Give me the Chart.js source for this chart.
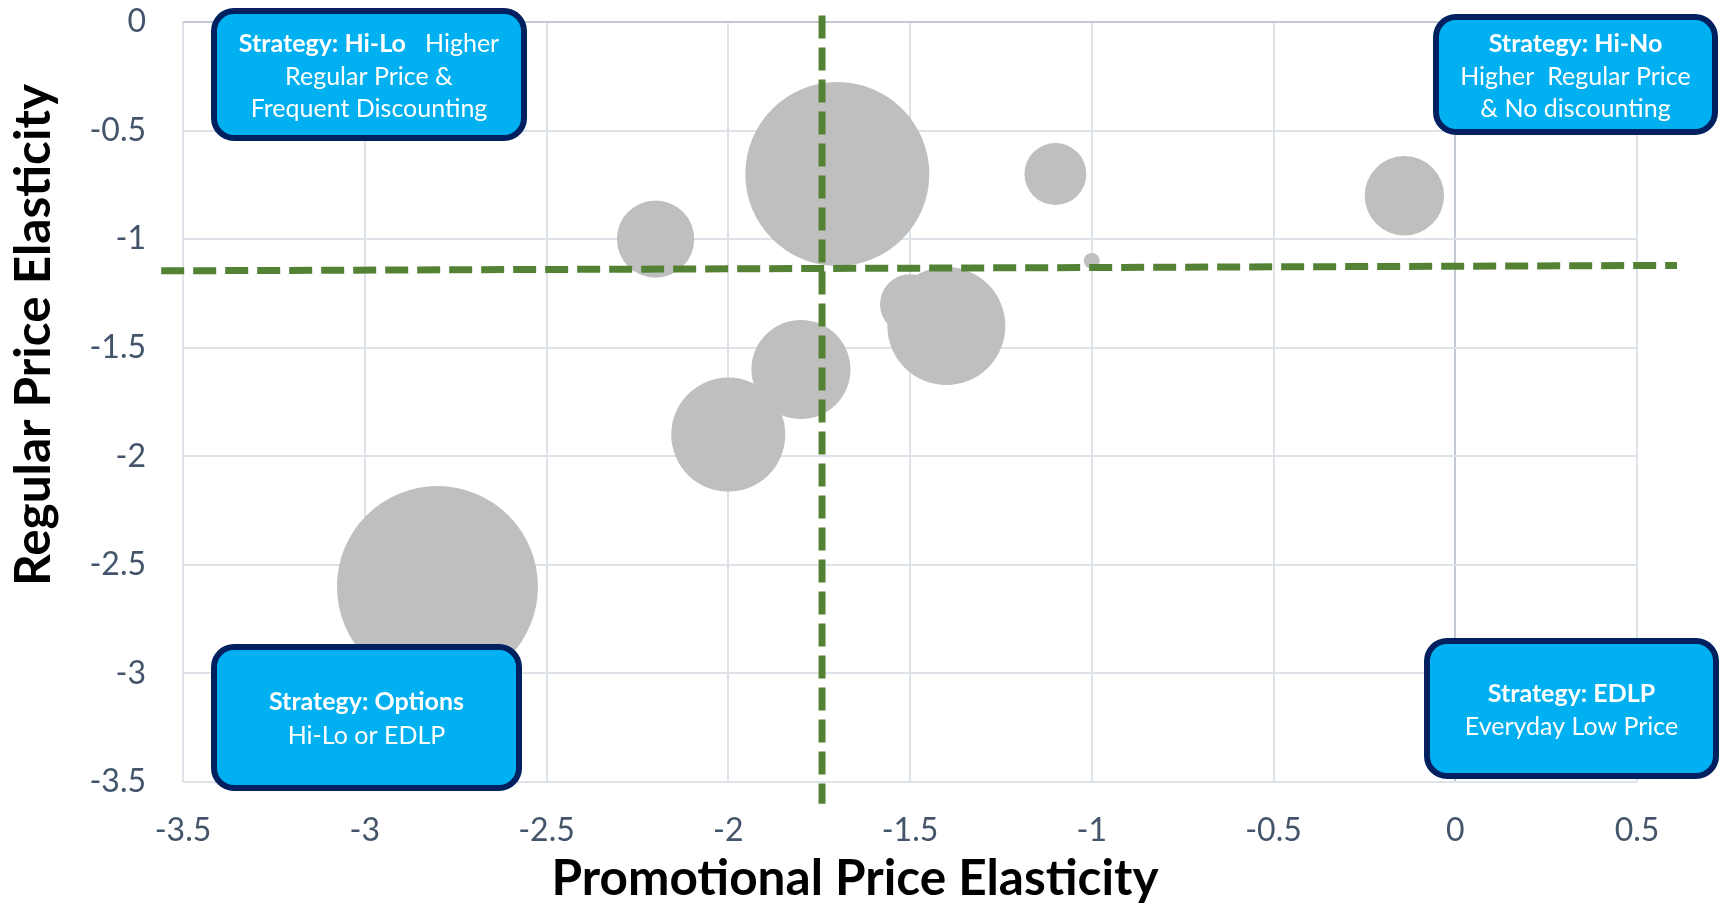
<!DOCTYPE html>
<html>
<head>
<meta charset="utf-8">
<title>Price Elasticity Strategy Map</title>
<script src="https://cdn.jsdelivr.net/npm/chart.js@4.4.1/dist/chart.umd.min.js"></script>
<style>
  html, body { margin: 0; padding: 0; background: #ffffff; }
  canvas { display: block; }
</style>
</head>
<body>
<canvas id="elasticity-chart" width="1723" height="905"></canvas>
<script>
// Product bubbles: promotional elasticity (x), regular elasticity (y), bubble size
const promoElasticity   = [-2.8, -2.2, -1.7, -1.1, -1.0, -0.14, -1.5, -1.4, -1.8, -2.0];
const regularElasticity = [-2.6, -1.0, -0.7, -0.7, -1.1, -0.8, -1.3, -1.4, -1.6, -1.9];
const bubbleSize        = [100, 14.8, 83.8, 9.5, 0.63, 15.6, 8.9, 34.5, 24.3, 32.2];

// Quadrant divider lines
const dividerHX = [-3.56, 0.61];
const dividerHY = [-1.146, -1.121];
const dividerVX = [-1.742, -1.742];
const dividerVY = [0.03, -3.6];

const xTicks = [-3.5, -3, -2.5, -2, -1.5, -1, -0.5, 0, 0.5];
const yTicks = [0, -0.5, -1, -1.5, -2, -2.5, -3, -3.5];

const xTitle = 'Promotional Price Elasticity';
const yTitle = 'Regular Price Elasticity';

// Strategy call-outs, one list of lines per quadrant; each line is [text, bold] runs
const hiLoText    = [[['Strategy: Hi-Lo', true], ['   Higher', false]], [['Regular Price &', false]], [['Frequent Discounting', false]]];
const hiNoText    = [[['Strategy: Hi-No', true]], [['Higher  Regular Price', false]], [['& No discounting', false]]];
const optionsText = [[['Strategy: Options', true]], [['Hi-Lo or EDLP', false]]];
const edlpText    = [[['Strategy: EDLP', true]], [['Everyday Low Price', false]]];

const FONT = 'Lato, "Open Sans", sans-serif';
const MAX_RADIUS = 100.5;
const maxSize = Math.max(...bubbleSize);

const bubbles = promoElasticity.map((x, i) => ({
    x: x,
    y: regularElasticity[i],
    r: MAX_RADIUS * Math.sqrt(bubbleSize[i] / maxSize) // area follows size
}));

const callouts = [
    { x: 211,  y: 8,   w: 316, h: 133, lines: [44, 77, 109], text: hiLoText },
    { x: 1433, y: 14,  w: 285, h: 121, lines: [44, 77, 109], text: hiNoText },
    { x: 211,  y: 644, w: 311, h: 147, lines: [702, 736],    text: optionsText },
    { x: 1424, y: 638, w: 295, h: 141, lines: [694, 727],    text: edlpText }
];

const roundRectPath = (ctx, x, y, w, h, r) => {
    ctx.beginPath();
    ctx.moveTo(x + r, y);
    ctx.arcTo(x + w, y, x + w, y + h, r);
    ctx.arcTo(x + w, y + h, x, y + h, r);
    ctx.arcTo(x, y + h, x, y, r);
    ctx.arcTo(x, y, x + w, y, r);
    ctx.closePath();
};

const runFont = bold => `${bold ? 'bold ' : ''}25px ${FONT}`;

// Draws the axis titles and the four strategy boxes on top of the plot
const overlayPlugin = {
    id: 'overlay',
    afterDraw(chart) {
        const ctx = chart.ctx;
        ctx.save();

        ctx.fillStyle = '#000000';
        ctx.font = `bold 49.5px ${FONT}`;
        ctx.textAlign = 'center';
        ctx.textBaseline = 'middle';
        ctx.fillText(xTitle, 855, 879);

        ctx.save();
        ctx.translate(34, 335);
        ctx.rotate(-Math.PI / 2);
        ctx.fillText(yTitle, 0, 0);
        ctx.restore();

        const bw = 6;
        callouts.forEach(box => {
            roundRectPath(ctx, box.x + bw / 2, box.y + bw / 2, box.w - bw, box.h - bw, 20);
            ctx.fillStyle = '#00B0F0';
            ctx.fill();
            ctx.lineWidth = bw;
            ctx.strokeStyle = '#002060';
            ctx.stroke();

            const cx = box.x + box.w / 2;
            ctx.fillStyle = '#ffffff';
            ctx.textAlign = 'left';
            box.text.forEach((runs, li) => {
                let total = 0;
                runs.forEach(([t, b]) => { ctx.font = runFont(b); total += ctx.measureText(t).width; });
                let x = cx - total / 2;
                runs.forEach(([t, b]) => {
                    ctx.font = runFont(b);
                    ctx.fillText(t, x, box.lines[li]);
                    x += ctx.measureText(t).width;
                });
            });
        });

        ctx.restore();
    }
};

const tickStyle = {
    font: { family: FONT, size: 32 },
    color: '#44546A',
    autoSkip: false,
    maxRotation: 0,
    callback: v => String(v)
};

const gridStyle = {
    color: c => (c.tick && c.tick.value === 0 ? '#C3C9D3' : '#DEE3EA'),
    lineWidth: 2,
    drawTicks: false
};

new Chart(document.getElementById('elasticity-chart'), {
    type: 'bubble',
    data: {
        datasets: [
            {
                type: 'line',
                data: dividerHX.map((x, i) => ({ x: x, y: dividerHY[i] })),
                borderColor: '#548235',
                borderWidth: 7,
                borderDash: [23, 9],
                pointRadius: 0,
                clip: false
            },
            {
                type: 'line',
                data: dividerVX.map((x, i) => ({ x: x, y: dividerVY[i] })),
                borderColor: '#548235',
                borderWidth: 7,
                borderDash: [23, 9],
                pointRadius: 0,
                clip: false
            },
            {
                data: bubbles,
                backgroundColor: '#BFBFBF',
                borderWidth: 0,
                hoverRadius: 0
            }
        ]
    },
    options: {
        responsive: false,
        devicePixelRatio: 1,
        animation: false,
        events: [],
        layout: { autoPadding: false, padding: { top: 22, right: 86, bottom: 0, left: 0 } },
        plugins: {
            legend: { display: false },
            tooltip: { enabled: false }
        },
        scales: {
            x: {
                type: 'linear',
                min: -3.5,
                max: 0.5,
                afterBuildTicks: s => { s.ticks = xTicks.map(v => ({ value: v })); },
                afterFit: s => { s.height = 123; },
                ticks: Object.assign({ padding: 29 }, tickStyle),
                grid: gridStyle,
                border: { display: false }
            },
            y: {
                type: 'linear',
                min: -3.5,
                max: 0,
                afterBuildTicks: s => { s.ticks = yTicks.map(v => ({ value: v })); },
                afterFit: s => {
                    s.width = 183;
                    // tick padding is horizontal here, keep it out of the top/bottom insets
                    s.paddingTop = 0;
                    s.paddingBottom = 0;
                },
                ticks: Object.assign({ padding: 37 }, tickStyle),
                grid: gridStyle,
                border: { display: false }
            }
        }
    },
    plugins: [overlayPlugin]
});
</script>
</body>
</html>
